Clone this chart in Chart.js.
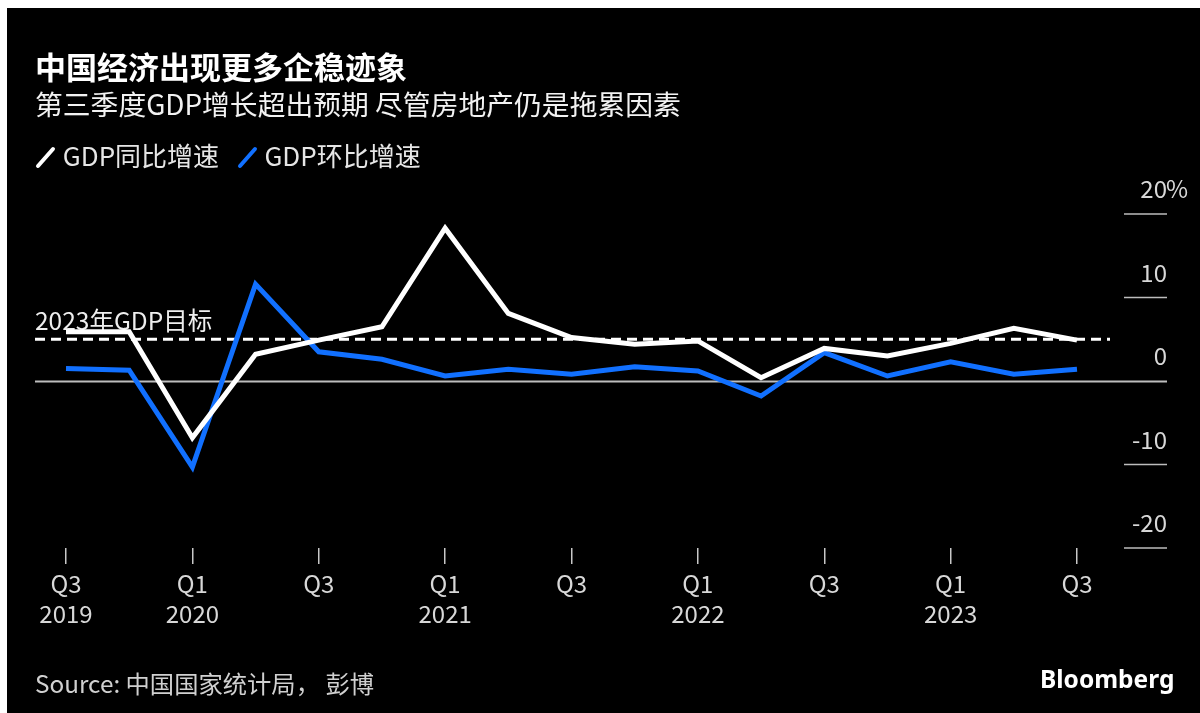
<!DOCTYPE html>
<html>
<head>
<meta charset="utf-8">
<script src="https://cdn.jsdelivr.net/npm/chart.js@4.4.0/dist/chart.umd.min.js"></script>
<style>
  body { margin: 0; background: #fff; width: 1200px; height: 713px; overflow: hidden; position: relative; font-family: 'Noto Sans CJK SC', 'Noto Sans', sans-serif; }
  #panel { position: absolute; left: 7px; top: 8px; right: 0; bottom: 0; background: #000; }
  #chart { position: absolute; left: 0; top: 0; }
  .txt { position: absolute; white-space: nowrap; color: #fff; }
  #title { left: 35px; top: 46px; font-size: 31px; font-weight: 700; line-height: 40px; }
  #sub { left: 35px; top: 85px; font-size: 27.8px; line-height: 36px; color: #f2f2f2; }
  #legend { left: 35px; top: 138px; font-size: 26px; line-height: 34px; color: #e6e6e6; }
  #legend svg { vertical-align: -3px; }
  #source { left: 35px; top: 667px; font-size: 24.3px; line-height: 32px; color: #d0d0d0; }
  #brand { left: 1040px; top: 662px; font-size: 24.5px; font-weight: 700; line-height: 34px; font-family: 'Noto Sans', sans-serif; }
</style>
</head>
<body>
<div id="panel"></div>
<canvas id="chart" width="1200" height="713"></canvas>
<div class="txt" id="title">中国经济出现更多企稳迹象</div>
<div class="txt" id="sub">第三季度GDP增长超出预期 尽管房地产仍是拖累因素</div>
<div class="txt" id="legend"><svg width="22" height="24"><line x1="3" y1="21" x2="18" y2="4" stroke="#fff" stroke-width="4" stroke-linecap="round"/></svg> GDP同比增速&nbsp;&nbsp;&nbsp;<svg width="22" height="24"><line x1="3" y1="21" x2="18" y2="4" stroke="#1170ff" stroke-width="4" stroke-linecap="round"/></svg> GDP环比增速</div>
<div class="txt" id="source">Source: 中国国家统计局， 彭博</div>
<div class="txt" id="brand">Bloomberg</div>
<script>
// 季度、数值
const quarters = ['Q3 2019', 'Q4 2019', 'Q1 2020', 'Q2 2020', 'Q3 2020', 'Q4 2020', 'Q1 2021', 'Q2 2021', 'Q3 2021',
  'Q4 2021', 'Q1 2022', 'Q2 2022', 'Q3 2022', 'Q4 2022', 'Q1 2023', 'Q2 2023', 'Q3 2023'];
const yoy = [5.9, 5.9, -6.8, 3.2, 4.9, 6.5, 18.3, 8.1, 5.2, 4.4, 4.8, 0.4, 3.9, 3.0, 4.5, 6.3, 4.9];
const qoq = [1.5, 1.3, -10.3, 11.6, 3.5, 2.6, 0.6, 1.4, 0.8, 1.7, 1.2, -1.8, 3.4, 0.6, 2.3, 0.8, 1.4];
const xTickLabels = [['Q3', '2019'], '', ['Q1', '2020'], '', 'Q3', '', ['Q1', '2021'], '', 'Q3', '',
  ['Q1', '2022'], '', 'Q3', '', ['Q1', '2023'], '', 'Q3'];
const yTicks = [20, 10, 0, -10, -20];
const target = 5;
const targetLabel = '2023年GDP目标';

const FONT = "'Noto Sans CJK SC', 'Noto Sans', sans-serif";

const extras = {
  id: 'extras',
  beforeDatasetsDraw(chart) {
    const c = chart.ctx;
    const y = chart.scales.y;
    c.save();
    // zero line
    const y0 = Math.round(y.getPixelForValue(0)) + 0.5;
    c.strokeStyle = '#bdbdbd';
    c.lineWidth = 2;
    c.beginPath(); c.moveTo(35, y0); c.lineTo(1167, y0); c.stroke();
    // right axis ticks and labels
    c.lineWidth = 1.5;
    c.font = '24px ' + FONT;
    c.fillStyle = '#d8d8d8';
    c.textBaseline = 'middle';
    yTicks.forEach((v, i) => {
      const py = y.getPixelForValue(v);
      if (v !== 0) {
        c.beginPath(); c.moveTo(1124, py); c.lineTo(1167, py); c.stroke();
      }
      c.textAlign = 'right';
      c.fillText(String(v), 1167, py - 25);
      if (i === 0) { c.textAlign = 'left'; c.fillText('%', 1166, py - 25); }
    });
    // target dashed line
    const yt = y.getPixelForValue(target);
    c.strokeStyle = '#fff';
    c.lineWidth = 3;
    c.setLineDash([10, 6]);
    c.beginPath(); c.moveTo(35, yt); c.lineTo(1110, yt); c.stroke();
    c.setLineDash([]);
    c.font = '24.5px ' + FONT;
    c.fillStyle = '#eee';
    c.textAlign = 'left';
    c.textBaseline = 'alphabetic';
    c.fillText(targetLabel, 35, yt - 9);
    c.restore();
  }
};

new Chart(document.getElementById('chart'), {
  type: 'line',
  data: {
    labels: quarters,
    datasets: [
      { label: 'GDP同比增速', data: yoy, borderColor: '#ffffff', borderWidth: 5, pointRadius: 0, tension: 0, clip: false },
      { label: 'GDP环比增速', data: qoq, borderColor: '#1170ff', borderWidth: 5, pointRadius: 0, tension: 0, clip: false }
    ]
  },
  options: {
    responsive: false,
    animation: false,
    layout: { padding: { left: 66, right: 123, top: 214, bottom: 0 } },
    plugins: { legend: { display: false }, tooltip: { enabled: false } },
    scales: {
      x: {
        offset: false,
        border: { display: false },
        grid: {
          drawOnChartArea: false,
          drawTicks: true,
          tickLength: 16,
          lineWidth: 1.5,
          color: (ctx) => (ctx.index % 2 === 0 ? '#c8c8c8' : 'rgba(0,0,0,0)')
        },
        ticks: {
          autoSkip: false,
          maxRotation: 0,
          padding: 5,
          color: '#d8d8d8',
          font: { size: 24, family: FONT, lineHeight: 1.25 },
          callback: (v, i) => xTickLabels[i]
        },
        afterFit: (s) => { s.height = 165; }
      },
      y: { display: false, min: -20, max: 20 }
    }
  },
  plugins: [extras]
});
</script>
</body>
</html>
